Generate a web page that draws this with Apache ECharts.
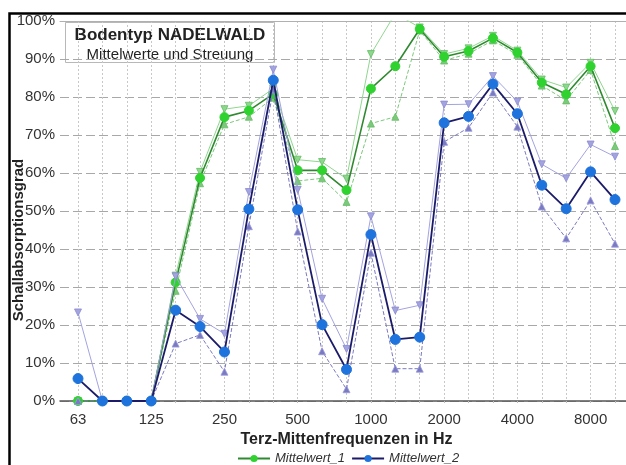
<!DOCTYPE html>
<html>
<head>
<meta charset="utf-8">
<script src="https://cdn.jsdelivr.net/npm/echarts@6/dist/echarts.min.js"></script>
<style>
  html, body { margin: 0; padding: 0; background: #fff; }
  #chart { width: 626px; height: 465px; }
</style>
</head>
<body>
<div id="chart"></div>
<script>
// Third-octave centre frequencies (Hz)
const frequencies = ['63','80','100','125','160','200','250','315','400','500','630','800',
  '1000','1250','1600','2000','2500','3150','4000','5000','6300','8000','10000'];

// Absorption coefficient in percent – series 1 (mean, upper and lower spread)
const mean1  = [0,0,0,0,31.2,58.7,74.7,76.4,80.8,60.7,60.7,55.5,82.2,88.1,97.9,90.6,92.1,95.5,91.7,83.8,80.7,88.1,71.8];
const upper1 = [0,0,0,0,33.0,60.3,76.8,77.7,82.2,63.5,62.9,58.5,91.3,102,98.3,91.3,92.8,96.1,92.2,84.6,82.5,89.0,76.3];
const lower1 = [0,0,0,0,29.0,57.3,72.8,74.8,79.8,57.9,58.6,52.4,73.0,74.8,97.5,89.6,91.4,94.9,91.1,83.0,79.1,87.1,67.1];

// Series 2
const mean2  = [5.9,0,0,0,23.9,19.6,12.9,50.5,84.4,50.3,20.1,8.3,43.8,16.2,16.8,73.2,74.9,83.4,75.6,56.8,50.6,60.3,53.0];
const upper2 = [23.3,0,0,0,32.8,21.6,17.7,55.0,87.2,55.6,26.9,13.7,48.6,23.8,25.2,78.0,78.1,85.5,78.8,62.3,58.6,67.5,64.3];
const lower2 = [0,0,0,0,15.1,17.4,7.7,46.0,82.0,44.6,13.1,3.1,39.0,8.5,8.5,68.2,71.9,81.2,72.2,51.2,42.8,52.8,41.4];

const FONT = '"Liberation Sans", Arial, sans-serif';

const chart = echarts.init(document.getElementById('chart'), null, { renderer: 'canvas' });

function bandSeries(name, data, color, border, lineType, symbolRotate, z) {
  return {
    name: name, type: 'line', xAxisIndex: 0, yAxisIndex: 0, data: data,
    symbol: 'triangle', symbolSize: 7, symbolRotate: symbolRotate,
    lineStyle: { color: color, width: 1, type: lineType },
    itemStyle: { color: color, borderColor: border, borderWidth: 0.8 },
    z: z, silent: true
  };
}

chart.setOption({
  animation: false,
  backgroundColor: '#fff',
  grid: [
    { left: 78, right: 11, top: 21, bottom: 64 },   // data area
    { left: 60, right: 0, top: 21, bottom: 64 }     // frame with horizontal grid
  ],
  xAxis: [
    {
      type: 'category', gridIndex: 0, data: frequencies, boundaryGap: false,
      axisLine: { show: false },
      axisTick: { show: true, interval: 0, length: 4, lineStyle: { color: '#bbb', type: [2, 2] } },
      axisLabel: { interval: 2, margin: 11, color: '#333', fontSize: 15, fontFamily: FONT },
      splitLine: { show: true, interval: 0, lineStyle: { color: '#c8c8c8', width: 1, type: [2, 2] } },
      name: 'Terz-Mittenfrequenzen in Hz', nameLocation: 'middle', nameGap: 27,
      nameTextStyle: { fontSize: 16, fontWeight: 'bold', color: '#222', fontFamily: FONT }
    },
    {
      type: 'value', gridIndex: 1, min: 0, max: 1, position: 'bottom',
      axisLine: { show: true, lineStyle: { color: '#555', width: 1.5 } },
      axisTick: { show: false }, axisLabel: { show: false }, splitLine: { show: false }
    },
    {
      type: 'value', gridIndex: 1, min: 0, max: 1, position: 'top',
      axisLine: { show: true, lineStyle: { color: '#b0b0b0', width: 1 } },
      axisTick: { show: false }, axisLabel: { show: false }, splitLine: { show: false }
    }
  ],
  yAxis: [
    { type: 'value', gridIndex: 0, min: 0, max: 100, show: false },
    {
      type: 'value', gridIndex: 1, min: 0, max: 100, interval: 10,
      axisLine: { show: false }, axisTick: { show: false },
      axisLabel: { formatter: '{value}%', margin: 5, color: '#333', fontSize: 15, fontFamily: FONT },
      splitLine: { show: true, lineStyle: { color: '#a8a8a8', width: 1, type: [9, 4] } }
    }
  ],
  legend: {
    data: ['Mittelwert_1', 'Mittelwert_2'],
    bottom: -5, left: 232, itemWidth: 32, itemHeight: 9, itemGap: 6,
    textStyle: { fontStyle: 'italic', fontSize: 13, color: '#333', fontFamily: FONT }
  },
  series: [
    bandSeries('Obergrenze_1', upper1, '#8fd68f', '#5fbf5f', 'solid', 180, 3),
    bandSeries('Untergrenze_1', lower1, '#7cc87c', '#5fbf5f', [4, 2], 0, 3),
    {
      name: 'Mittelwert_1', type: 'line', xAxisIndex: 0, yAxisIndex: 0, data: mean1,
      symbol: 'circle', symbolSize: 9,
      lineStyle: { color: '#2f8a2f', width: 1.6 },
      itemStyle: { color: '#2fd22f', borderColor: '#2fd22f' },
      z: 4
    },
    bandSeries('Obergrenze_2', upper2, '#a3a3e0', '#8a8ad0', 'solid', 180, 5),
    bandSeries('Untergrenze_2', lower2, '#7a7ac0', '#9a9ae0', [4, 2], 0, 5),
    {
      name: 'Mittelwert_2', type: 'line', xAxisIndex: 0, yAxisIndex: 0, data: mean2,
      symbol: 'circle', symbolSize: 10,
      lineStyle: { color: '#1b1b6a', width: 1.8 },
      itemStyle: { color: '#1f73dc', borderColor: '#1f73dc' },
      z: 6
    }
  ],
  graphic: [
    {
      type: 'rect', left: 7, top: 11, z: 100, silent: true,
      shape: { width: 640, height: 480 },
      style: { fill: 'none', stroke: '#000', lineWidth: 2.5 }
    },
    {
      type: 'group', left: 65, top: 22, z: 50,
      children: [
        { type: 'rect', shape: { x: 0, y: 0, width: 209, height: 40 },
          style: { fill: '#fff', stroke: '#b8b8b8', lineWidth: 1 } },
        { type: 'text', x: 104.5, y: 13, style: { text: 'Bodentyp NADELWALD', fill: '#222',
          font: 'bold 17px ' + FONT, textAlign: 'center', textVerticalAlign: 'middle' } },
        { type: 'text', x: 104.5, y: 32, style: { text: 'Mittelwerte und Streuung', fill: '#222',
          font: '15px ' + FONT, textAlign: 'center', textVerticalAlign: 'middle' } }
      ]
    },
    {
      type: 'text', x: 19, y: 240, rotation: Math.PI / 2, z: 50,
      style: { text: 'Schallabsorptionsgrad', fill: '#222', font: 'bold 15px ' + FONT,
        textAlign: 'center', textVerticalAlign: 'middle' }
    }
  ]
});
</script>
</body>
</html>
